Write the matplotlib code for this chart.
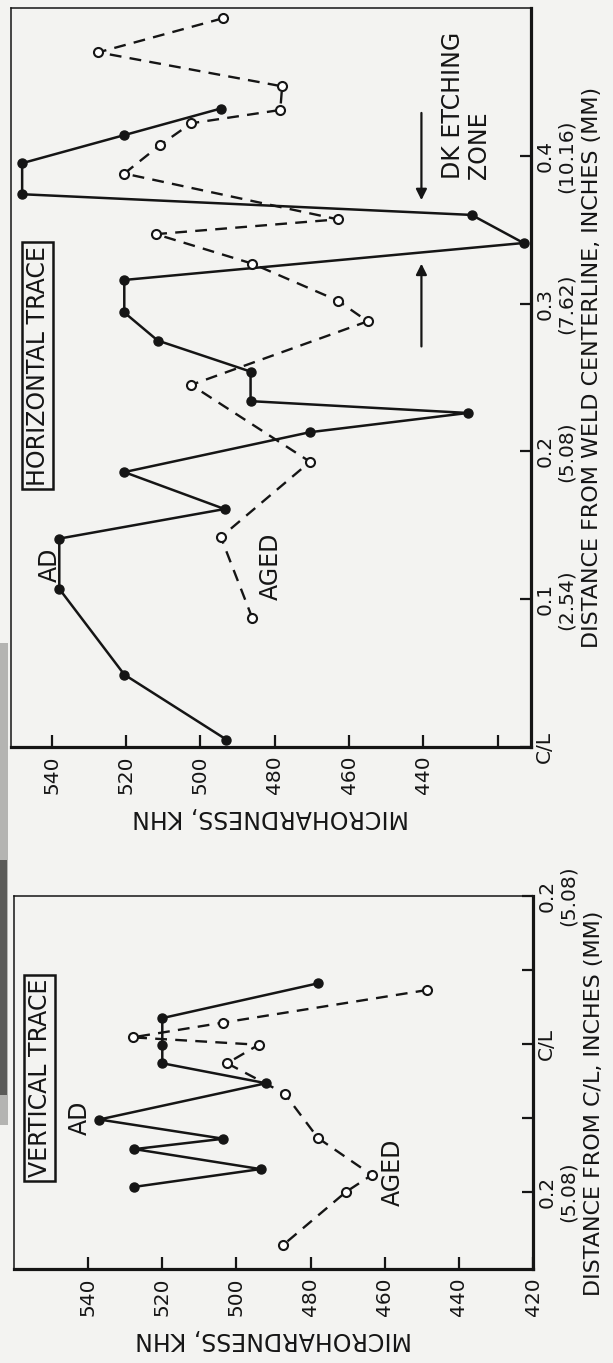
import matplotlib
matplotlib.use("Agg")
import matplotlib.pyplot as plt
from matplotlib.patches import Rectangle

# ---- Horizontal trace: distance from weld centreline (in) vs Knoop hardness ----
h_ad_dist = [0.005, 0.049, 0.107, 0.141, 0.161, 0.186, 0.213, 0.226, 0.234, 0.254,
             0.275, 0.294, 0.316, 0.341, 0.360, 0.374, 0.395, 0.414, 0.432]
h_ad_khn = [493.0, 520.5, 538.0, 538.0, 493.5, 520.5, 470.5, 428.0, 486.5, 486.5,
            511.5, 520.5, 520.5, 413.0, 427.0, 548.0, 548.0, 520.5, 494.5]
h_aged_dist = [0.087, 0.142, 0.193, 0.245, 0.288, 0.302, 0.327, 0.347, 0.357, 0.388,
               0.407, 0.422, 0.431, 0.447, 0.470, 0.493]
h_aged_khn = [486.0, 494.5, 470.5, 502.5, 455.0, 463.0, 486.0, 512.0, 463.0, 520.5,
              511.0, 502.5, 478.5, 478.0, 527.5, 494.0]

# ---- Vertical trace: signed distance from C/L (in) vs Knoop hardness ----
v_ad_dist = [0.082, 0.035, -0.001, -0.026, -0.053, -0.102, -0.128, -0.142, -0.169, -0.193]
v_ad_khn = [478.0, 520.0, 520.0, 520.0, 492.0, 537.0, 503.5, 527.5, 493.5, 527.5]
v_aged_dist = [0.073, 0.029, 0.009, -0.001, -0.026, -0.067, -0.127, -0.177, -0.200, -0.272]
v_aged_khn = [448.5, 503.5, 528.0, 494.0, 502.5, 487.0, 478.0, 463.5, 470.5, 487.5]

# ---- Axis ticks and labels ----
khn_ticks = [540, 520, 500, 480, 460, 440, 420]
h_khn_labels = ["540", "520", "500", "480", "460", "440", ""]
v_khn_labels = ["540", "520", "500", "480", "460", "440", "420"]
h_dist_ticks = [0.0, 0.1, 0.2, 0.3, 0.4]
h_dist_labels = ["C/L", "0.1\n(2.54)", "0.2\n(5.08)", "0.3\n(7.62)", "0.4\n(10.16)"]
v_dist_ticks = [-0.2, -0.1, 0.0, 0.1, 0.2]
v_dist_labels = ["0.2\n(5.08)", "", "C/L", "", "0.2\n(5.08)"]

BG = "#f3f3f1"
INK = "#151515"
FS_NUM = 14.5   # tick numbers
FS_TXT = 17     # words
FS_DIST = 16    # distance-axis titles
plt.rcParams["font.family"] = ["DejaVu Sans"]

W, H = 613, 1363
fig = plt.figure(figsize=(W / 100, H / 100), dpi=100, facecolor=BG)


def px_axes(x0, y0, x1, y1):
    return fig.add_axes([x0 / W, 1 - y1 / H, (x1 - x0) / W, (y1 - y0) / H])


def style_axes(ax, xlim, ylim, xticks, xlabels, yticks, ylabels, ylabel, ylabel_pos):
    ax.set_facecolor(BG)
    ax.set_xlim(*xlim)
    ax.set_ylim(*ylim)
    for side in ("left", "top"):
        ax.spines[side].set_linewidth(1.1)
        ax.spines[side].set_color(INK)
    for side in ("right", "bottom"):
        ax.spines[side].set_linewidth(2.3)
        ax.spines[side].set_color(INK)
    ax.set_xticks(xticks)
    ax.set_xticklabels(xlabels, rotation=90, fontsize=FS_NUM, color=INK)
    ax.yaxis.tick_right()
    ax.set_yticks(yticks)
    ax.set_yticklabels(ylabels, rotation=90, fontsize=FS_NUM, color=INK,
                       va="center", ha="left", multialignment="center")
    ax.tick_params(axis="x", direction="in", length=9, width=1.6, pad=6, color=INK)
    ax.tick_params(axis="y", direction="in", length=8, width=1.6, pad=3, color=INK)
    ax.set_xlabel("MICROHARDNESS, KHN", rotation=180, fontsize=FS_TXT, color=INK, labelpad=8)
    ax.yaxis.set_label_position("right")
    ax.set_ylabel(ylabel, rotation=90, fontsize=FS_DIST, color=INK)
    ax.yaxis.set_label_coords(ylabel_pos[0], ylabel_pos[1])


def draw_traces(ax, ad_d, ad_k, ag_d, ag_k):
    ax.plot(ad_k, ad_d, "-", color=INK, lw=1.8, marker="o", ms=6.5,
            mfc=INK, mec=INK, zorder=3)
    ax.plot(ag_k, ag_d, color=INK, lw=1.7, ls=(0, (5, 3.5)), marker="o", ms=6.5,
            mfc="white", mec=INK, mew=1.5, zorder=4)


# Horizontal trace panel
ax1 = px_axes(11, 8, 531, 747)
style_axes(ax1, (551, 411), (0, 0.5), khn_ticks, h_khn_labels,
           h_dist_ticks, h_dist_labels,
           "DISTANCE FROM WELD CENTERLINE, INCHES (MM)", (1.098, 0.513))
draw_traces(ax1, h_ad_dist, h_ad_khn, h_aged_dist, h_aged_khn)
ax1.text(543.8, 0.258, "HORIZONTAL TRACE", rotation=90, fontsize=FS_TXT, color=INK,
         ha="center", va="center",
         bbox=dict(boxstyle="square,pad=0.15", fc=BG, ec=INK, lw=1.8))
ax1.text(540.5, 0.123, "AD", rotation=90, fontsize=FS_TXT, color=INK, ha="center", va="center")
ax1.text(481.0, 0.122, "AGED", rotation=90, fontsize=FS_TXT, color=INK, ha="center", va="center")
ax1.text(428.5, 0.384, "DK ETCHING\nZONE", rotation=90, fontsize=FS_TXT, color=INK,
         ha="center", va="bottom", multialignment="left", linespacing=1.1)
arrow = dict(arrowstyle="-|>", lw=1.6, color=INK, mutation_scale=16, shrinkA=0, shrinkB=0)
ax1.annotate("", xy=(440.5, 0.370), xytext=(440.5, 0.429), arrowprops=arrow)
ax1.annotate("", xy=(440.5, 0.327), xytext=(440.5, 0.271), arrowprops=arrow)

# Vertical trace panel
ax2 = px_axes(14, 896, 533, 1269)
style_axes(ax2, (560, 420), (-0.304, 0.2), khn_ticks, v_khn_labels,
           v_dist_ticks, v_dist_labels,
           "DISTANCE FROM C/L, INCHES (MM)", (1.098, 0.445))
draw_traces(ax2, v_ad_dist, v_ad_khn, v_aged_dist, v_aged_khn)
ax2.text(553.1, -0.046, "VERTICAL TRACE", rotation=90, fontsize=FS_TXT, color=INK,
         ha="center", va="center",
         bbox=dict(boxstyle="square,pad=0.15", fc=BG, ec=INK, lw=1.8))
ax2.text(542.2, -0.100, "AD", rotation=90, fontsize=FS_TXT, color=INK, ha="center", va="center")
ax2.text(457.7, -0.174, "AGED", rotation=90, fontsize=FS_TXT, color=INK, ha="center", va="center")

# Dark strip along the left margin between the panels
fig.patches.append(Rectangle((0, 1 - 1125 / H), 8 / W, (1125 - 643) / H,
                             transform=fig.transFigure, fc="#b4b4b2", ec="none"))
fig.patches.append(Rectangle((0, 1 - 1095 / H), 7 / W, (1095 - 860) / H,
                             transform=fig.transFigure, fc="#5a5a58", ec="none"))

fig.savefig("out.png", dpi=100, facecolor=BG)
